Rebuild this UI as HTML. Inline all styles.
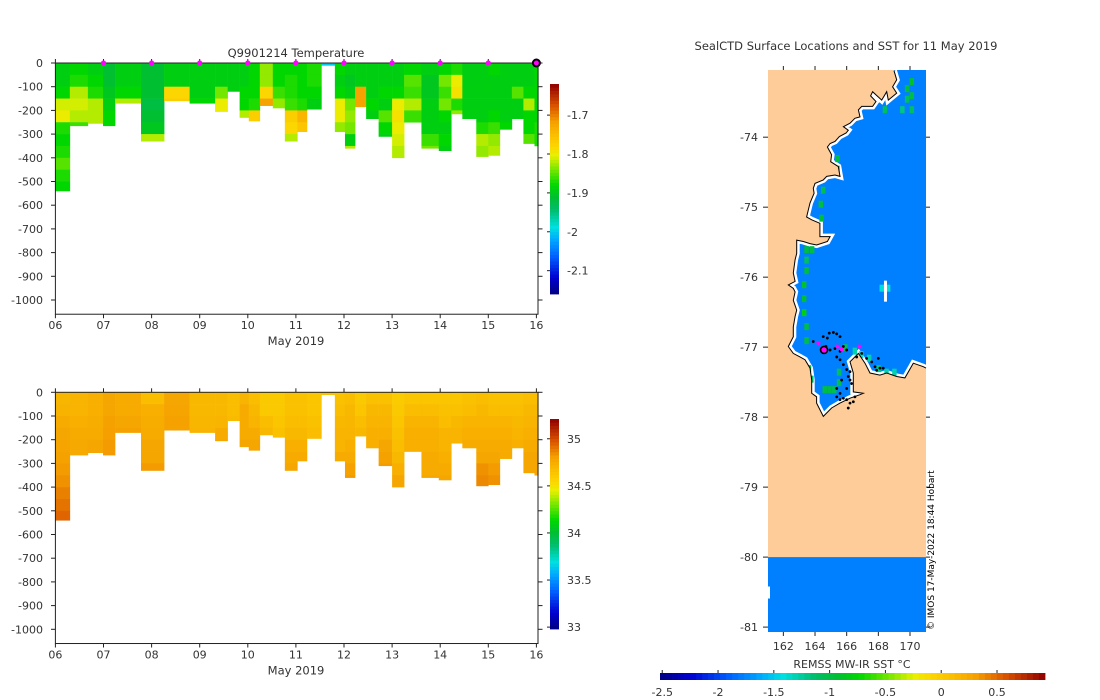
<!DOCTYPE html>
<html><head><meta charset="utf-8"><style>
body{margin:0;background:#fff}
svg{display:block}
text{font-family:"DejaVu Sans","Liberation Sans",sans-serif;fill:#333}
</style></head><body>
<svg id="svg" width="1100" height="700" viewBox="0 0 1100 700"></svg>
<script>
// ---------- DATA ----------
const profileStart=[0,0.30,0.675,0.99,1.24,1.78,2.26,2.79,3.32,3.58,3.83,4.02,4.25,4.52,4.77,5.03,5.23,5.53,5.81,6.02,6.23,6.46,6.72,7.0,7.25,7.61,7.97,8.23,8.46,8.75,9.0,9.24,9.49,9.73,9.96];
const profileEnd=10.04;
const profileDepth=[540,265,255,265,170,330,160,170,205,120,230,245,180,190,330,290,195,10,290,360,185,235,310,400,250,360,370,215,235,395,390,280,235,340,350];
const binSize=50;
const tempBins=[
[-1.89,-1.89,-1.88,-1.81,-1.80,-1.87,-1.88,-1.87,-1.85,-1.87,-1.88],
[-1.88,-1.87,-1.82,-1.81,-1.82,-1.86],
[-1.89,-1.88,-1.87,-1.82,-1.82,-1.82],
[-1.91,-1.91,-1.90,-1.89,-1.88,-1.88],
[-1.89,-1.89,-1.88,-1.82],
[-1.91,-1.91,-1.91,-1.92,-1.91,-1.90,-1.82],
[-1.89,-1.89,-1.78,-1.77],
[-1.89,-1.89,-1.89,-1.88],
[-1.89,-1.89,-1.84,-1.80,-1.80],
[-1.89,-1.89,-1.89],
[-1.89,-1.89,-1.88,-1.88,-1.82],
[-1.88,-1.88,-1.88,-1.87,-1.77],
[-1.83,-1.83,-1.78,-1.72],
[-1.88,-1.88,-1.86,-1.83],
[-1.88,-1.87,-1.87,-1.86,-1.77,-1.78,-1.82],
[-1.88,-1.88,-1.88,-1.87,-1.74,-1.76],
[-1.87,-1.87,-1.88,-1.89],
[-2.0],
[-1.88,-1.89,-1.88,-1.80,-1.80,-1.83],
[-1.89,-1.90,-1.89,-1.84,-1.83,-1.84,-1.89,-1.82],
[-1.89,-1.89,-1.72,-1.72],
[-1.89,-1.89,-1.89,-1.88,-1.89],
[-1.89,-1.89,-1.88,-1.89,-1.85,-1.88,-1.89],
[-1.89,-1.89,-1.88,-1.80,-1.79,-1.80,-1.81,-1.82],
[-1.88,-1.85,-1.86,-1.82,-1.86],
[-1.89,-1.90,-1.90,-1.89,-1.89,-1.89,-1.86,-1.84],
[-1.88,-1.84,-1.86,-1.84,-1.88,-1.89,-1.88,-1.89],
[-1.87,-1.80,-1.79,-1.87,-1.83],
[-1.89,-1.89,-1.89,-1.89,-1.89],
[-1.89,-1.89,-1.89,-1.89,-1.89,-1.87,-1.82,-1.83],
[-1.88,-1.89,-1.89,-1.89,-1.88,-1.86,-1.83,-1.82],
[-1.89,-1.89,-1.89,-1.89,-1.89,-1.88],
[-1.89,-1.89,-1.85,-1.89,-1.89],
[-1.89,-1.89,-1.88,-1.82,-1.88,-1.88,-1.85],
[-1.88,-1.88,-1.88,-1.88,-1.88,-1.87,-1.87]];
const salBins=[
[34.71,34.73,34.76,34.78,34.79,34.80,34.82,34.84,34.88,34.91,34.94],
[34.72,34.72,34.74,34.76,34.77,34.77],
[34.74,34.74,34.75,34.76,34.78,34.78],
[34.78,34.78,34.80,34.81,34.82,34.82],
[34.76,34.76,34.78,34.80],
[34.68,34.74,34.75,34.76,34.78,34.78,34.82],
[34.78,34.79,34.80,34.80],
[34.70,34.70,34.71,34.72],
[34.70,34.70,34.72,34.76,34.78],
[34.68,34.68,34.69],
[34.72,34.76,34.76,34.76,34.78],
[34.68,34.70,34.72,34.76,34.78],
[34.62,34.62,34.68,34.70],
[34.62,34.62,34.64,34.66],
[34.66,34.66,34.68,34.70,34.74,34.76,34.78],
[34.66,34.66,34.68,34.70,34.74,34.76],
[34.64,34.64,34.66,34.68],
[34.66],
[34.66,34.68,34.70,34.72,34.72,34.76],
[34.68,34.70,34.71,34.72,34.74,34.76,34.80,34.82],
[34.62,34.64,34.68,34.70],
[34.66,34.70,34.72,34.74,34.74],
[34.66,34.70,34.72,34.74,34.78,34.80,34.82],
[34.61,34.62,34.64,34.66,34.68,34.70,34.74,34.78],
[34.64,34.68,34.72,34.74,34.74],
[34.64,34.68,34.72,34.74,34.74,34.76,34.76,34.78],
[34.64,34.66,34.68,34.72,34.72,34.74,34.76,34.78],
[34.64,34.66,34.70,34.72,34.72],
[34.66,34.68,34.72,34.74,34.76],
[34.68,34.70,34.72,34.74,34.76,34.78,34.84,34.86],
[34.66,34.68,34.72,34.74,34.76,34.78,34.82,34.84],
[34.66,34.68,34.72,34.74,34.76,34.76],
[34.66,34.68,34.70,34.72,34.74],
[34.68,34.70,34.72,34.74,34.76,34.78,34.78],
[34.68,34.70,34.72,34.74,34.76,34.78,34.78]];
const markerDays=[1,2,3,4,5,6,7,8,9];
const currentDay=10;
const dayTicks=['06','07','08','09','10','11','12','13','14','15','16'];
const depthTicks=[0,-100,-200,-300,-400,-500,-600,-700,-800,-900,-1000];
const tempCbTicks=[-1.7,-1.8,-1.9,-2,-2.1];
const salCbTicks=[35,34.5,34,33.5,33];
const sstTicks=[-2.5,-2,-1.5,-1,-0.5,0,0.5];
const latTicks=[-74,-75,-76,-77,-78,-79,-80,-81];
const lonTicks=[162,164,166,168,170];
const oceanSST=-1.78;
const coastLon=[168.99,169.16,168.90,169.16,168.63,168.53,168.21,167.64,167.51,167.85,167.64,166.95,166.74,166.84,166.52,166.21,165.79,166.10,165.96,165.54,165.26,164.95,164.78,165.05,164.99,165.47,165.58,165.26,164.74,164.52,164.00,163.89,163.94,163.68,163.47,163.79,164.31,164.31,164.95,164.78,164.10,163.68,163.26,162.84,162.84,162.74,162.63,162.74,162.31,162.63,162.74,162.63,162.84,162.74,162.63,162.63,162.31,162.63,163.05,163.37,163.68,163.79,163.79,164.10,164.10,164.52,165.05,165.58,166.21,166.84,167.05,166.42,166.42,166.21,166.74,167.16,167.47,168.10,168.53,169.16,169.68,170.21,170.84,171.01];
const coastLat=[-73.05,-73.18,-73.28,-73.37,-73.47,-73.35,-73.47,-73.35,-73.41,-73.49,-73.56,-73.56,-73.61,-73.71,-73.73,-73.80,-73.85,-73.90,-73.94,-73.99,-74.06,-74.09,-74.14,-74.25,-74.35,-74.42,-74.56,-74.54,-74.56,-74.61,-74.66,-74.73,-74.80,-74.94,-75.14,-75.18,-75.23,-75.42,-75.42,-75.49,-75.54,-75.52,-75.49,-75.47,-75.66,-75.75,-75.94,-76.06,-76.11,-76.16,-76.21,-76.33,-76.47,-76.56,-76.71,-76.85,-76.99,-77.09,-77.14,-77.18,-77.30,-77.47,-77.66,-77.71,-77.80,-77.99,-77.87,-77.80,-77.73,-77.68,-77.66,-77.64,-77.37,-77.21,-77.09,-77.23,-77.37,-77.40,-77.37,-77.42,-77.44,-77.23,-77.28,-77.30];
const cellLon=[163.45,163.45,163.45,163.3,163.3,163.3,163.45,163.45,163.6,163.75,163.8,169.8,169.8,170.1,170.1,170.1,169.5,168.4,165.4,165.4,164.5,164.35,164.4,164.6,164.9,165.2,165.5,165.5,165.9,166.5,166.9,167.4,168.0,168.5,169.0,168.2,168.6];
const cellLat=[-75.6,-75.75,-75.9,-76.1,-76.3,-76.5,-76.7,-76.9,-77.3,-77.45,-75.6,-73.3,-73.45,-73.2,-73.4,-73.6,-73.6,-73.6,-74.3,-74.45,-74.75,-74.95,-75.15,-77.6,-77.6,-77.6,-77.5,-77.35,-77.0,-77.05,-77.1,-77.15,-77.3,-77.35,-77.35,-76.15,-76.15];
const cellSST=[-0.95,-1.1,-0.95,-0.9,-0.95,-0.8,-1.0,-1.0,-1.0,-1.1,-1.0,-1.0,-1.1,-0.9,-1.0,-1.1,-1.2,-1.1,-1.0,-1.0,-1.05,-1.0,-0.95,-1.0,-1.0,-1.05,-1.05,-1.1,-1.1,-1.3,-1.4,-1.3,-1.2,-1.3,-1.3,-1.4,-1.4];
const sealLon=[163.89,164.21,164.52,164.78,164.90,165.16,165.37,165.58,164.69,164.95,165.26,165.58,165.79,166.00,165.37,165.58,165.79,166.00,166.21,166.10,166.21,166.31,166.00,165.58,165.37,165.79,166.00,166.21,166.42,166.52,166.10,166.63,166.95,167.26,167.58,167.79,167.89,168.00,168.10,168.31,165.68,165.37,165.58];
const sealLat=[-76.92,-76.94,-76.85,-76.87,-76.80,-76.79,-76.81,-76.85,-76.99,-77.04,-77.02,-77.06,-76.99,-77.04,-77.14,-77.18,-77.25,-77.32,-77.35,-77.42,-77.47,-77.52,-77.59,-77.66,-77.71,-77.73,-77.75,-77.80,-77.78,-77.71,-77.87,-77.14,-77.09,-77.16,-77.21,-77.28,-77.33,-77.16,-77.30,-77.30,-77.47,-77.59,-77.75];
const dayLon=[164.21,165.41,165.68,166.80];
const dayLat=[-76.94,-76.99,-77.03,-76.99];
const lastLon=164.57, lastLat=-77.04;

// ---------- HELPERS ----------
const NS='http://www.w3.org/2000/svg';
const svg=document.getElementById('svg');
function mk(tag,attrs,parent){const e=document.createElementNS(NS,tag);for(const k in attrs)e.setAttribute(k,attrs[k]);(parent||svg).appendChild(e);return e;}
const stops=[[0,[0,0,128]],[0.08,[0,0,208]],[0.18,[0,96,255]],[0.26,[0,168,255]],[0.32,[0,224,224]],[0.40,[0,190,110]],[0.46,[0,190,50]],[0.52,[0,216,0]],[0.60,[128,232,0]],[0.66,[232,240,0]],[0.70,[252,216,0]],[0.76,[250,190,0]],[0.82,[245,160,0]],[0.90,[216,80,0]],[1,[144,0,0]]];
function cmap(t){t=Math.max(0,Math.min(1,t));for(let i=1;i<stops.length;i++){if(t<=stops[i][0]){const a=stops[i-1],b=stops[i];const f=(t-a[0])/(b[0]-a[0]);const c=a[1].map((v,j)=>Math.round(v+(b[1][j]-v)*f));return 'rgb('+c.join(',')+')';}}return 'rgb(144,0,0)';}
const dayX=d=>55.4+d*48.1;

function depthPlot(top,bins,vmin,vmax,name){
  const dy=d=>top+d*0.237;
  const bottom=dy(1060);
  const g=mk('g',{});
  
  for(let p=0;p<profileStart.length;p++){
    const x0=dayX(profileStart[p]);const x1=dayX(p+1<profileStart.length?profileStart[p+1]:profileEnd);
    const vals=bins[p];
    for(let b=0;b<vals.length;b++){
      const d0=b*binSize,d1=Math.min((b+1)*binSize,profileDepth[p]);
      if(d1<=d0)continue;
      const r=mk('rect',{x:x0,y:dy(d0),width:x1-x0+0.3,height:dy(d1)-dy(d0)+0.3,fill:cmap((vals[b]-vmin)/(vmax-vmin))},g);
      
    }
  }
  const fr=mk('rect',{x:55.4,y:top,width:538-55.4,height:bottom-top,fill:'none',stroke:'#222','stroke-width':1},g);
  
  depthTicks.forEach(t=>{const y=dy(-t);
    mk('line',{x1:51,x2:55.4,y1:y,y2:y,stroke:'#222'},g);mk('line',{x1:538,x2:542.5,y1:y,y2:y,stroke:'#222'},g);
    const tx=mk('text',{x:43,y:y+4,'text-anchor':'end','font-size':11},g);tx.textContent=String(t);
    });
  dayTicks.forEach((t,i)=>{const x=dayX(i);
    mk('line',{x1:x,x2:x,y1:bottom,y2:bottom+4,stroke:'#222'},g);mk('line',{x1:x,x2:x,y1:top,y2:top-4,stroke:'#222'},g);
    const tx=mk('text',{x:x,y:bottom+15,'text-anchor':'middle','font-size':11},g);tx.textContent=t;
    });
  const xl=mk('text',{x:296,y:bottom+31,'text-anchor':'middle','font-size':11.5},g);xl.textContent='May 2019';
  
  return dy;
}
function vColorbar(x,y0,y1,vmin,vmax,ticks,name){
  const g=mk('g',{});
  const n=64;const h=(y1-y0)/n;
  for(let i=0;i<n;i++){mk('rect',{x:x,y:y1-(i+1)*h,width:9,height:h+0.4,fill:cmap((i+0.5)/n)},g);}
  ticks.forEach(t=>{const y=y1-(t-vmin)/(vmax-vmin)*(y1-y0);
    mk('line',{x1:x-3,x2:x,y1:y,y2:y,stroke:'#222'},g);
    const tx=mk('text',{x:x+17,y:y+4,'font-size':11},g);tx.textContent=t;
    });
}

// ---------- TEMPERATURE ----------
const tMin=-2.16,tMax=-1.62;
depthPlot(63,tempBins,tMin,tMax,'temperature');
const title=mk('text',{x:296,y:57,'text-anchor':'middle','font-size':11.5});title.textContent='Q9901214  Temperature';

markerDays.forEach(d=>{const c=mk('circle',{cx:dayX(d),cy:63,r:2.6,fill:'#f0f'});
  });
const cur=mk('circle',{cx:dayX(currentDay),cy:63,r:3.5,fill:'#f0f',stroke:'#000','stroke-width':2});

vColorbar(550,84,294,tMin,tMax,tempCbTicks,'temperature-colorbar');

// ---------- SALINITY ----------
const sMin=32.98,sMax=35.21;
depthPlot(392.3,salBins,sMin,sMax,'salinity');
vColorbar(550,419,629,sMin,sMax,salCbTicks,'salinity-colorbar');

// ---------- MAP ----------
const lonMin=161.03,lonMax=171.01,latTop=-73.04,latBot=-81.07;
const mx=l=>768+(l-lonMin)/(lonMax-lonMin)*158;
const my=l=>70+(latTop-l)/(latTop-latBot)*562;
const sstMin=-2.52,sstMax=0.93;
const sstC=v=>cmap((v-sstMin)/(sstMax-sstMin));
const mg=mk('g',{});
const land=mk('rect',{x:768,y:70,width:158,height:562,fill:'#fdcc99'},mg);

let coastPts=coastLon.map((l,i)=>mx(l).toFixed(1)+','+my(coastLat[i]).toFixed(1));
const polyPts=coastPts.concat([mx(lonMax)+','+my(latTop),mx(coastLon[0])+','+my(latTop)]).join(' ');
const defs=mk('defs',{});const cp=mk('clipPath',{id:'oc'},defs);mk('polygon',{points:polyPts},cp);
const ocean=mk('polygon',{points:polyPts,fill:sstC(oceanSST)},mg);

mk('polyline',{points:coastPts.join(' '),fill:'none',stroke:'#fff','stroke-width':6,'clip-path':'url(#oc)'},mg);
for(let i=0;i<cellLon.length;i++){
  const r=mk('rect',{x:mx(cellLon[i])-2,y:my(cellLat[i])-3,width:4.5,height:7,fill:sstC(cellSST[i]),'clip-path':'url(#oc)'},mg);
  
}
const isl=mk('rect',{x:mx(168.45)-1.5,y:my(-76.05),width:3,height:my(-76.35)-my(-76.05),fill:'#fff'},mg);

const coast=mk('polyline',{points:coastPts.join(' '),fill:'none',stroke:'#000','stroke-width':1},mg);

const shelf=mk('rect',{x:768,y:my(-80),width:158,height:632-my(-80),fill:sstC(oceanSST)},mg);

mk('rect',{x:768,y:my(-80.42),width:2,height:12,fill:'#fff'},mg);
for(let i=0;i<sealLon.length;i++){
  const c=mk('circle',{cx:mx(sealLon[i]),cy:my(sealLat[i]),r:1.4,fill:'#000'},mg);
  
}
for(let i=0;i<dayLon.length;i++){
  const c=mk('circle',{cx:mx(dayLon[i]),cy:my(dayLat[i]),r:2,fill:'#f0f'},mg);
  
}
const lst=mk('circle',{cx:mx(lastLon),cy:my(lastLat),r:3.5,fill:'#f0f',stroke:'#000','stroke-width':1.6},mg);

latTicks.forEach(t=>{const y=my(t);
  mk('line',{x1:763,x2:768,y1:y,y2:y,stroke:'#222'},mg);mk('line',{x1:926,x2:930,y1:y,y2:y,stroke:'#222'},mg);
  const tx=mk('text',{x:758,y:y+4,'text-anchor':'end','font-size':11},mg);tx.textContent=t;
  });
lonTicks.forEach(t=>{const x=mx(t);
  mk('line',{x1:x,x2:x,y1:632,y2:636,stroke:'#222'},mg);mk('line',{x1:x,x2:x,y1:66,y2:70,stroke:'#222'},mg);
  const tx=mk('text',{x:x,y:650,'text-anchor':'middle','font-size':11},mg);tx.textContent=t;
  });
const mt=mk('text',{x:846,y:50,'text-anchor':'middle','font-size':11.5});mt.textContent='SealCTD Surface Locations and SST for 11 May 2019';

const cr=mk('text',{x:0,y:0,'font-size':9,transform:'translate(934,630) rotate(-90)',style:'fill:#000'});cr.textContent='© IMOS 17-May-2022 18:44 Hobart';


// SST colorbar
const cg=mk('g',{});
const n=64,w=(1045-660)/n;
for(let i=0;i<n;i++)mk('rect',{x:660+i*w,y:673,width:w+0.4,height:7,fill:cmap((i+0.5)/n)},cg);
sstTicks.forEach(t=>{const x=660+(t-sstMin)/(sstMax-sstMin)*385;
  mk('line',{x1:x,x2:x,y1:670,y2:673,stroke:'#222'},cg);
  const tx=mk('text',{x:x,y:696,'text-anchor':'middle','font-size':11},cg);tx.textContent=t;
  });
const ct=mk('text',{x:852,y:668,'text-anchor':'middle','font-size':11});ct.textContent='REMSS MW-IR SST °C';

</script>
</body></html>
